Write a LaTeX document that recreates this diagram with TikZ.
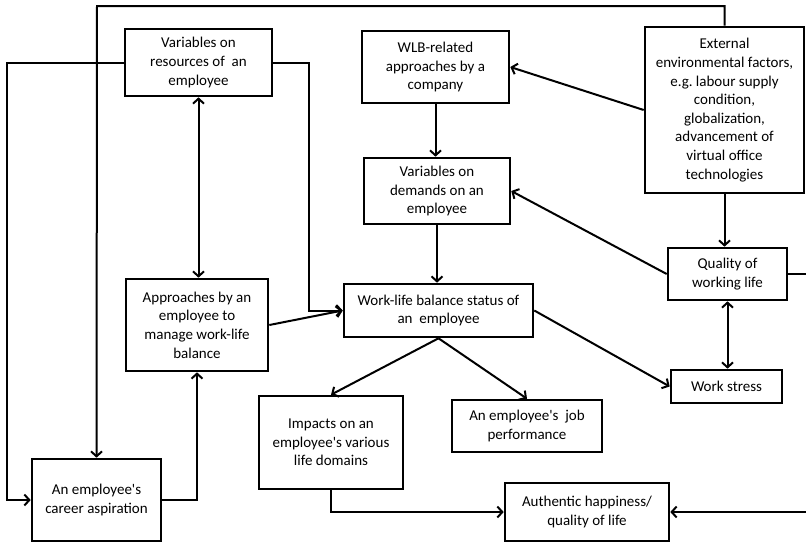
\documentclass[tikz,border=0pt]{standalone}
\usepackage{fontspec}
\setmainfont{Carlito}
\usetikzlibrary{arrows.meta}
\newcommand{\apo}{\textquotesingle}
\frenchspacing
\begin{document}
\begin{tikzpicture}[x=1pt,y=-1pt,
  box/.style={draw=black, line width=2.6pt, fill=white, align=center, inner sep=0pt,
    font=\fontsize{15}{18.6}\selectfont},
  conn/.style={line width=2pt, draw=black},
  arr/.style={conn, -{Straight Barb[length=5pt,width=11pt]}},
  darr/.style={conn, {Straight Barb[length=5pt,width=11pt]}-{Straight Barb[length=5pt,width=11pt]}}]
\useasboundingbox (0,0) rectangle (806,542);
\fill[white] (0,0) rectangle (806,542);

\node[box, minimum width=147pt, minimum height=67pt] (res) at (198.5,62.5) {Variables on\\resources of \ an\\employee};
\node[box, minimum width=147pt, minimum height=72pt] (wlbco) at (435.5,67) {WLB-related\\approaches by a\\company};
\node[box, minimum width=159pt, minimum height=166pt] (ext) at (724.5,110) {External\\environmental factors,\\e.g. labour supply\\condition,\\globalization,\\advancement of\\virtual office\\technologies};
\node[box, minimum width=146pt, minimum height=66pt] (dem) at (437,191) {Variables on\\demands on an\\employee};
\node[box, minimum width=119pt, minimum height=52pt] (qwl) at (727.5,274) {Quality of\\working life};
\node[box, minimum width=142pt, minimum height=92pt] (app) at (197,325) {Approaches by an\\employee to\\manage work-life\\balance};
\node[box, minimum width=189pt, minimum height=53pt] (wlb) at (438.5,310.5) {Work-life balance status of\\an \ employee};
\node[box, minimum width=144pt, minimum height=93pt] (imp) at (331,442.5) {Impacts on an\\employee\apo s various\\life domains};
\node[box, minimum width=150pt, minimum height=52pt] (job) at (527,426) {An employee\apo s \ job\\performance};
\node[box, minimum width=111pt, minimum height=33pt] (ws) at (726.5,386.5) {Work stress};
\node[box, minimum width=129pt, minimum height=82pt] (car) at (96.5,500) {An employee\apo s\\career aspiration};
\node[box, minimum width=164pt, minimum height=58pt] (auth) at (587,512) {Authentic happiness/\\quality of life};

\coordinate (topturn) at (97,6);
\coordinate (rightturn) at (812,274);
\draw[arr] (ext.north) |- (topturn) -- (car.north);
\draw[arr] (res.west) -- ++(-117,0) |- (car.west);
\draw[arr] (res.east) -- ++(36,0) |- (wlb.west);
\draw[darr] (res.south) -- (res.south |- app.north);
\draw[arr] (car.east) -| (app.south);
\draw[arr] (app.east) -- (wlb.west);
\draw[arr] (wlbco.south) -- (wlbco.south |- dem.north);
\draw[arr] (dem.south) -- (dem.south |- wlb.north);
\draw[arr] (ext.west) -- (wlbco.east);
\draw[arr] (ext.south) -- (ext.south |- qwl.north);
\draw[arr] (qwl.west) -- (dem.east);
\draw[arr] (qwl.east) -- (rightturn) |- (auth.east);
\draw[darr] (qwl.south) -- (qwl.south |- ws.north);
\draw[arr] (wlb.east) -- (ws.west);
\draw[arr] (wlb.south) -- (imp.north);
\draw[arr] (wlb.south) -- (job.north);
\draw[arr] (imp.south) |- (auth.west);
\end{tikzpicture}
\end{document}
